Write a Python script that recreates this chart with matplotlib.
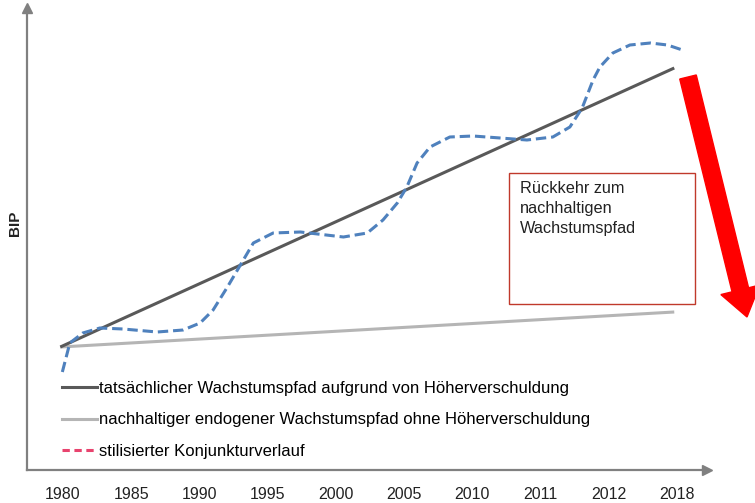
"""BIP: tatsächlicher vs. nachhaltiger Wachstumspfad (schematic)."""

import matplotlib
matplotlib.use("Agg")
import matplotlib.pyplot as plt  # noqa: E402
from matplotlib.lines import Line2D  # noqa: E402
from matplotlib.patches import FancyArrow, Rectangle  # noqa: E402

plt.rcParams["font.family"] = ["Liberation Sans", "DejaVu Sans"]

# x axis: category labels, drawn at equally spaced positions 0..9
years = ["1980", "1985", "1990", "1995", "2000", "2005", "2010", "2011", "2012", "2018"]

# straight growth paths (x in category positions, y in arbitrary BIP units)
path_x = [-0.04, 8.96]
actual_y = [12.3, 40.2]
sustainable_y = [12.3, 15.8]

# stylised business cycle
cycle_x = [-0.01, 0.10, 0.29, 0.54, 0.88, 1.38, 1.76, 2.01, 2.20, 2.41, 2.60, 2.79,
           3.08, 3.48, 4.11, 4.46, 4.69, 4.90, 5.04, 5.19, 5.38, 5.67, 6.01, 6.41,
           6.80, 7.18, 7.43, 7.61, 7.77, 7.87, 8.06, 8.31, 8.61, 8.86, 9.08]
cycle_y = [9.8, 12.7, 13.7, 14.2, 14.1, 13.8, 14.0, 14.7, 16.0, 18.3, 20.5, 22.7,
           23.7, 23.8, 23.3, 23.7, 25.0, 26.7, 28.3, 30.7, 32.3, 33.3, 33.4, 33.2,
           33.0, 33.3, 34.3, 36.2, 39.0, 40.3, 41.7, 42.5, 42.7, 42.5, 42.0]

legend_labels = [
    "tatsächlicher Wachstumspfad aufgrund von Höherverschuldung",
    "nachhaltiger endogener Wachstumspfad ohne Höherverschuldung",
    "stilisierter Konjunkturverlauf",
]
box_text = "Rückkehr zum\nnachhaltigen\nWachstumspfad"

DARK, LIGHT, BLUE, PINK, RED = "#595959", "#b5b5b5", "#4f81bd", "#e8436e", "#ff0000"
AXIS = "#808080"

fig = plt.figure(figsize=(7.55, 5.03), dpi=100)
ax = fig.add_axes([27 / 755, 33 / 503, 680 / 755, 462 / 503])
ax.set_xlim(-0.528, 9.44)
ax.set_ylim(0, 46.2)

ax.plot(path_x, sustainable_y, color=LIGHT, lw=2.2, solid_capstyle="butt")
ax.plot(path_x, actual_y, color=DARK, lw=2.2, solid_capstyle="butt")
ax.plot(cycle_x, cycle_y, color=BLUE, lw=2.2, dashes=(3.4, 1.6))

for side in ("top", "right"):
    ax.spines[side].set_visible(False)
for side in ("left", "bottom"):
    ax.spines[side].set_color(AXIS)
    ax.spines[side].set_linewidth(1.6)
ax.plot([0], [1], marker="^", ms=7, color=AXIS, transform=ax.transAxes, clip_on=False)
ax.plot([1], [0], marker=">", ms=7, color=AXIS, transform=ax.transAxes, clip_on=False)

ax.set_xticks(range(len(years)))
ax.set_xticklabels(years, fontsize=11.5, color="#222222")
ax.tick_params(axis="x", length=0, pad=12)
ax.set_yticks([])

handles = [
    Line2D([], [], color=DARK, lw=2.2),
    Line2D([], [], color=LIGHT, lw=2.2),
    Line2D([], [], color=PINK, lw=2.2, dashes=(2.4, 1.5)),
]
ax.legend(handles, legend_labels, loc="upper left", frameon=False,
          bbox_to_anchor=(35 / 680, (470 - 381) / 462), fontsize=12,
          handlelength=2.1, handletextpad=0.12, labelspacing=0.98,
          borderpad=0, borderaxespad=0)

fig.text(15 / 755, 1 - 223 / 503, "BIP", rotation=90, fontsize=11, fontweight="bold",
         ha="center", va="center", color="#222222")

fig.add_artist(Rectangle((509 / 755, 1 - 304 / 503), 186 / 755, 131 / 503,
                         transform=fig.transFigure, fill=False, ec="#c0392b", lw=1.0))
fig.text(520 / 755, 1 - 181 / 503, box_text, fontsize=11.7, va="top", ha="left",
         color="#222222", linespacing=1.42)

fig.add_artist(FancyArrow(6.88, 5.03 - 0.77, 0.59, -2.40, width=0.17, head_width=0.40,
                          head_length=0.28, length_includes_head=True, color=RED,
                          transform=fig.dpi_scale_trans))

fig.savefig("out.png", dpi=100)
